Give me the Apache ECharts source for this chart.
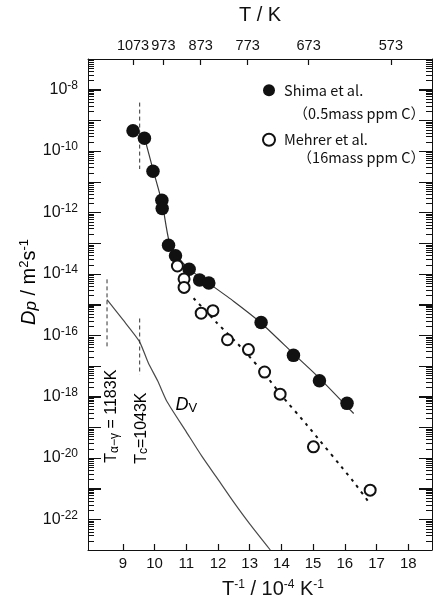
<!DOCTYPE html>
<html><head><meta charset="utf-8">
<script src="https://cdn.jsdelivr.net/npm/echarts@6/dist/echarts.min.js"></script>
<style>html,body{margin:0;padding:0;background:#fff}#c{width:435px;height:603px}</style>
</head><body><div id="c"></div>
<script>
// ---- data (x = 1/T in 1e-4 K^-1, D in m^2/s) ----
const xTicks = [9, 10, 11, 12, 13, 14, 15, 16, 17, 18];
const tempTicks = [1073, 973, 873, 773, 673, 573];

const shimaX = [9.32, 9.68, 9.95, 10.23, 10.24, 10.44, 10.66, 11.09, 11.42, 11.71, 13.36, 14.38, 15.20, 16.07];
const shimaD = [4.6e-10, 2.6e-10, 2.2e-11, 2.5e-12, 1.35e-12, 8.5e-14, 3.9e-14, 1.4e-14, 6.3e-15, 5.0e-15, 2.6e-16, 2.2e-17, 3.3e-18, 6.0e-19];

const mehrerX = [10.72, 10.93, 10.93, 11.47, 11.84, 12.30, 12.96, 13.47, 13.96, 15.01, 16.80];
const mehrerD = [1.8e-14, 6.8e-15, 3.6e-15, 5.2e-16, 6.3e-16, 7.1e-17, 3.4e-17, 6.3e-18, 1.2e-18, 2.3e-20, 8.9e-22];

const shimaFitX = [9.68, 9.95, 10.24, 10.45, 10.7, 11.1, 11.7, 12.5, 13.36, 14.38, 15.2, 16.28];
const shimaFitD = [2.8e-10, 2.5e-11, 2.0e-12, 1.26e-13, 4.0e-14, 1.4e-14, 5.0e-15, 1.26e-15, 2.5e-16, 2.5e-17, 4.0e-18, 2.8e-19];

const mehrerFitX = [11.23, 11.97, 12.75, 13.5, 14.0, 14.8, 16.27, 16.75];
const mehrerFitD = [1.6e-15, 2.5e-16, 3.8e-17, 5.0e-18, 1.1e-18, 1.2e-19, 1.7e-21, 3.7e-22];

const dvX = [8.5, 9.0, 9.52, 9.8, 10.1, 10.39, 11.0, 11.5, 12.0, 12.49, 13.0, 13.65];
const dvD = [1.45e-15, 3.2e-16, 6.3e-17, 1.26e-17, 3.2e-18, 6.9e-19, 7.1e-20, 1.1e-20, 2.0e-21, 3.7e-22, 7.1e-23, 1.0e-23];

const tcLineX = 9.53;
const tcTopD = [3.8e-9, 2.6e-11];
const tcBotD = [3.5e-16, 5.2e-18];
const tagLineX = 8.50;
const tagD = [6.6e-15, 4.3e-17];

const yMinExp = -23, yMaxExp = -7;   // decades shown on the log axis

// ---- chart ----
const FONT = '"Liberation Sans", Arial, sans-serif';
const JP = '"Noto Sans CJK JP", sans-serif';
const lg = Math.log10;
const pairs = (xs, ds) => xs.map((x, i) => [x, lg(ds[i])]);
const chart = echarts.init(document.getElementById('c'));

const XMIN = 7.9, XMAX = 18.75;
const black = '#111';
const supStyle = { fontSize: 12, fontFamily: FONT, color: black, padding: [0, 0, 9, 0] };
const baseStyle = { fontSize: 20, fontFamily: FONT, color: black };

// tick positions of the log axis in decade units: [value, tick length]
const logTicks = [];
for (let n = yMinExp; n <= yMaxExp; n++) {
  logTicks.push([n, 13]);
  if (n < yMaxExp) for (let k = 2; k <= 9; k++) logTicks.push([n + lg(k), 6]);
}

function vline(x, ds) {
  return {
    type: 'line', xAxisIndex: 0, yAxisIndex: 0, showSymbol: false, silent: true,
    data: [[x, lg(ds[0])], [x, lg(ds[1])]],
    lineStyle: { color: '#333', width: 1, type: [4, 3] }, z: 2
  };
}

function yAx(pos) {
  return {
    type: 'value', position: pos, min: yMinExp, max: yMaxExp, interval: 1,
    axisLine: { show: true, lineStyle: { color: black, width: 1 } },
    axisTick: { show: true, inside: true, length: 13, lineStyle: { color: black, width: 1 } },
    axisLabel: pos === 'left' ? {
      show: true, margin: 10,
      formatter: v => (Math.round(v) % 2 === 0 ? '{b|10}{s|' + Math.round(v) + '}' : ''),
      rich: { b: { fontSize: 16, fontFamily: FONT, color: black },
              s: { fontSize: 12, fontFamily: FONT, color: black, padding: [0, 0, 8, 0] } }
    } : { show: false },
    splitLine: { show: false }
  };
}

chart.setOption({
  animation: false,
  backgroundColor: '#fff',
  grid: { left: 88, right: 3, top: 59, bottom: 53, containLabel: false, outerBoundsMode: 'none' },
  legend: {
    orient: 'vertical', left: 262, top: 83, padding: 0, itemWidth: 12, itemHeight: 12, itemGap: 35,
    data: ['Shima et al.', 'Mehrer et al.'],
    textStyle: { fontSize: 14.5, fontFamily: JP, color: black, padding: [0, 0, 0, 4] }
  },
  xAxis: [{
    type: 'value', position: 'bottom', min: XMIN, max: XMAX,
    axisLine: { show: true, lineStyle: { color: black, width: 1 } },
    axisTick: { show: true, inside: true, length: 6, customValues: xTicks, lineStyle: { color: black, width: 1.2 } },
    axisLabel: { show: true, customValues: xTicks, fontSize: 15, fontFamily: FONT, color: black, margin: 6 },
    splitLine: { show: false },
    name: '{b|T}{s|-1}{b| / 10}{s|-4}{b| K}{s|-1}',
    nameLocation: 'middle', nameGap: 29,
    nameTextStyle: { padding: [0, 0, 0, 26], rich: { b: baseStyle, s: supStyle } }
  }, {
    type: 'value', position: 'top', min: XMIN, max: XMAX,
    axisLine: { show: true, lineStyle: { color: black, width: 1 } },
    axisTick: { show: true, inside: true, length: 6, customValues: tempTicks.map(t => 1e4 / t), lineStyle: { color: black, width: 1.2 } },
    axisLabel: { show: true, customValues: tempTicks.map(t => 1e4 / t), formatter: v => String(Math.round(1e4 / v)),
      fontSize: 14.5, fontFamily: FONT, color: black, margin: 6, hideOverlap: false },
    splitLine: { show: false },
    name: 'T / K', nameLocation: 'middle', nameGap: 34,
    nameTextStyle: { fontSize: 20, fontFamily: FONT, color: black }
  }],
  yAxis: [yAx('left'), yAx('right')],
  series: [
    { name: 'logTicks', type: 'custom', silent: true, clip: false, z: 1,
      data: logTicks.map(t => [XMIN, t[0], t[1]]), encode: { x: 0, y: 1 },
      renderItem: (params, api) => {
        const len = api.value(2);
        const pl = api.coord([XMIN, api.value(1)]);
        const pr = api.coord([XMAX, api.value(1)]);
        const yl = Math.round(pl[1]) + 0.5, yr = Math.round(pr[1]) + 0.5;
        const st = { stroke: black, lineWidth: 1 };
        return { type: 'group', children: [
          { type: 'line', shape: { x1: pl[0], y1: yl, x2: pl[0] + len, y2: yl }, style: st },
          { type: 'line', shape: { x1: pr[0] - len, y1: yr, x2: pr[0], y2: yr }, style: st }
        ] };
      } },
    { name: 'Dv', type: 'line', showSymbol: false, data: pairs(dvX, dvD), smooth: 0.2,
      lineStyle: { color: '#4a4a4a', width: 1.2 }, z: 2 },
    { name: 'shimaFit', type: 'line', showSymbol: false, data: pairs(shimaFitX, shimaFitD), smooth: 0.2,
      lineStyle: { color: '#3a3a3a', width: 1.2 }, z: 2 },
    { name: 'mehrerFit', type: 'line', showSymbol: false, data: pairs(mehrerFitX, mehrerFitD), smooth: 0.2,
      lineStyle: { color: black, width: 2, type: [3, 5] }, z: 2 },
    vline(tcLineX, tcTopD), vline(tcLineX, tcBotD), vline(tagLineX, tagD),
    { name: 'Shima et al.', type: 'scatter', symbol: 'circle', symbolSize: 13.5, data: pairs(shimaX, shimaD),
      itemStyle: { color: black, opacity: 1 }, z: 4 },
    { name: 'Mehrer et al.', type: 'scatter', symbol: 'circle', symbolSize: 11, data: pairs(mehrerX, mehrerD),
      itemStyle: { color: '#fff', borderColor: black, borderWidth: 2, opacity: 1 }, z: 5 }
  ]
});

// ---- annotations anchored to data coordinates ----
const px = (x, e) => chart.convertToPixel({ gridIndex: 0 }, [x, e]);
const pTag = px(8.65, -18.64);
const pTc = px(9.58, -19.03);
const pDv = px(11.0, -18.26);
const rot = Math.PI / 2;
const t16 = { fontSize: 16, fontFamily: FONT, color: black };
const s12 = { fontSize: 12, fontFamily: FONT, color: black, padding: [5, 0, 0, 0] };

chart.setOption({
  graphic: [
    { type: 'text', x: 29, y: 282, rotation: rot,
      style: { text: '{i|D}{ip|p}{t| / m}{s|2}{t|s}{s|-1}', align: 'center', verticalAlign: 'middle',
        rich: {
          i: { fontSize: 20, fontStyle: 'italic', fontFamily: FONT, color: black },
          ip: { fontSize: 17, fontStyle: 'italic', fontFamily: FONT, color: black, padding: [5, 0, 0, 0] },
          t: { fontSize: 20, fontFamily: FONT, color: black },
          s: { fontSize: 13, fontFamily: FONT, color: black, padding: [0, 0, 10, 0] }
        } } },
    { type: 'text', x: pTag[0], y: pTag[1], rotation: rot,
      style: { text: '{t|T}{s|α−γ}{t| = 1183K}', align: 'center', verticalAlign: 'middle', rich: { t: t16, s: s12 } } },
    { type: 'text', x: pTc[0], y: pTc[1], rotation: rot,
      style: { text: '{t|T}{s|c}{t|=1043K}', align: 'center', verticalAlign: 'middle', rich: { t: t16, s: s12 } } },
    { type: 'text', x: pDv[0], y: pDv[1],
      style: { text: '{i|D}{s|V}', align: 'center', verticalAlign: 'middle',
        rich: { i: { fontSize: 18, fontStyle: 'italic', fontFamily: FONT, color: black },
                s: { fontSize: 13, fontFamily: FONT, color: black, padding: [7, 0, 0, 0] } } } },
    { type: 'text', x: 425, y: 113,
      style: { text: '（0.5mass ppm C）', align: 'right', verticalAlign: 'middle', fontSize: 14.5, fontFamily: JP, fill: black } },
    { type: 'text', x: 425, y: 157,
      style: { text: '（16mass ppm C）', align: 'right', verticalAlign: 'middle', fontSize: 14.5, fontFamily: JP, fill: black } }
  ]
});
</script>
</body></html>
